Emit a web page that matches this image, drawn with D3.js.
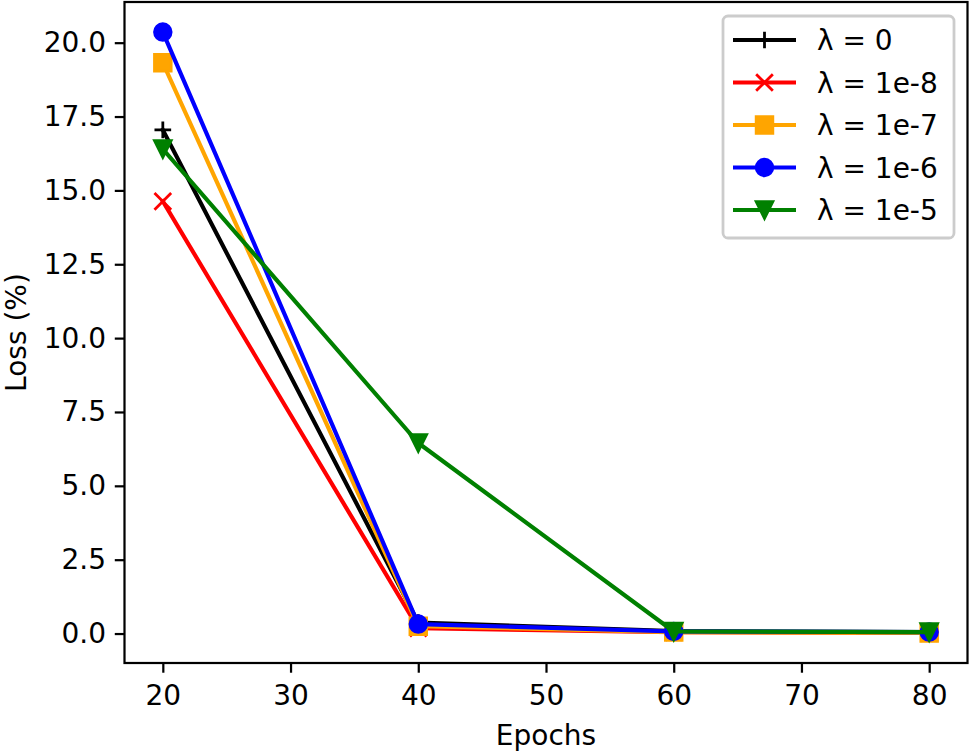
<!DOCTYPE html>
<html>
<head>
<meta charset="utf-8">
<script src="https://cdn.jsdelivr.net/npm/d3@7"></script>
<style>
  body { margin: 0; background: #fff; }
  svg { display: block; font-family: "DejaVu Sans", sans-serif; }
</style>
</head>
<body>
<svg id="chart" width="970" height="751"></svg>
<script>
// data
let epochs = [20, 40, 60, 80];
let labels = ["λ = 0", "λ = 1e-8", "λ = 1e-7", "λ = 1e-6", "λ = 1e-5"];
let lossLam0 = [17.05, 0.37, 0.08, 0.05];
let lossLam1e8 = [14.63, 0.18, 0.05, 0.02];
let lossLam1e7 = [19.32, 0.25, 0.05, 0.02];
let lossLam1e6 = [20.36, 0.32, 0.07, 0.05];
let lossLam1e5 = [16.4, 6.45, 0.07, 0.05];
let xTicks = [20, 30, 40, 50, 60, 70, 80];
let yTicks = [0, 2.5, 5, 7.5, 10, 12.5, 15, 17.5, 20];

let colors = ["#000000", "#ff0000", "#ffa500", "#0000ff", "#008000"];
let markers = ["plus", "x", "square", "circle", "tridown"];
let allLoss = [lossLam0, lossLam1e8, lossLam1e7, lossLam1e6, lossLam1e5];

let pt = 200 / 72; // px per point
let plotL = 124.5, plotR = 967.5, plotT = 2, plotB = 663;
let fontSize = 28;

let svg = d3.select("#chart");

// matplotlib-style 5% margins
let xMin = d3.min(epochs), xMax = d3.max(epochs);
let xPad = (xMax - xMin) * 0.05;
let flat = allLoss.flat();
let yMin = d3.min(flat), yMax = d3.max(flat);
let yPad = (yMax - yMin) * 0.05;

let x = d3.scaleLinear().domain([xMin - xPad, xMax + xPad]).range([plotL, plotR]);
let y = d3.scaleLinear().domain([yMin - yPad, yMax + yPad]).range([plotB, plotT]);

let ms = 6 * pt;      // marker size
let mew = 1 * pt;     // marker edge width
let lw = 1.5 * pt;    // line width

function markerPath(type, s) {
    let h = s / 2;
    if (type === "plus") return `M${-h},0L${h},0M0,${-h}L0,${h}`;
    if (type === "x") return `M${-h},${-h}L${h},${h}M${-h},${h}L${h},${-h}`;
    if (type === "square") return `M${-h},${-h}H${h}V${h}H${-h}Z`;
    if (type === "tridown") return `M0,${h}L${-h},${-h}L${h},${-h}Z`;
    // circle
    return d3.arc()({innerRadius: 0, outerRadius: h, startAngle: 0, endAngle: 2 * Math.PI});
}

function drawMarker(g, type, color) {
    let filled = !(type === "plus" || type === "x");
    g.append("path")
        .attr("d", markerPath(type, ms))
        .attr("fill", filled ? color : "none")
        .attr("stroke", color)
        .attr("stroke-width", mew)
        .attr("stroke-linejoin", "miter");
}

// series
let line = d3.line()
    .x(function (d, i) { return x(epochs[i]); })
    .y(function (d) { return y(d); });

allLoss.forEach(function (series, k) {
    let g = svg.append("g");
    g.append("path")
        .datum(series)
        .attr("d", line)
        .attr("fill", "none")
        .attr("stroke", colors[k])
        .attr("stroke-width", lw)
        .attr("stroke-linejoin", "round")
        .attr("stroke-linecap", "square");
    g.selectAll("g.m")
        .data(series)
        .enter()
        .append("g")
        .attr("class", "m")
        .attr("transform", function (d, i) { return `translate(${x(epochs[i])},${y(d)})`; })
        .each(function () { drawMarker(d3.select(this), markers[k], colors[k]); });
});

// axes
let tickLen = 3.5 * pt, tickPad = 3.5 * pt;
let xAxis = d3.axisBottom(x).tickValues(xTicks).tickFormat(d3.format("d"))
    .tickSizeInner(tickLen).tickSizeOuter(0).tickPadding(tickPad);
let yAxis = d3.axisLeft(y).tickValues(yTicks).tickFormat(d3.format(".1f"))
    .tickSizeInner(tickLen).tickSizeOuter(0).tickPadding(tickPad - 1);

let gx = svg.append("g").attr("transform", `translate(0,${plotB})`).call(xAxis);
let gy = svg.append("g").attr("transform", `translate(${plotL},0)`).call(yAxis);
[gx, gy].forEach(function (g) {
    g.select(".domain").remove();
    g.selectAll(".tick line").attr("stroke", "#000").attr("stroke-width", 0.8 * pt);
    g.selectAll(".tick text")
        .attr("fill", "#000")
        .style("font-family", "DejaVu Sans")
        .style("font-size", fontSize + "px");
});
gx.selectAll(".tick text").attr("dy", "0.8em");

// frame
svg.append("rect")
    .attr("x", plotL).attr("y", plotT)
    .attr("width", plotR - plotL).attr("height", plotB - plotT)
    .attr("fill", "none")
    .attr("stroke", "#000")
    .attr("stroke-width", 0.8 * pt);

// axis labels
svg.append("text")
    .attr("x", (plotL + plotR) / 2)
    .attr("y", 745)
    .attr("text-anchor", "middle")
    .style("font-size", fontSize + "px")
    .text("Epochs");

svg.append("text")
    .attr("transform", `translate(25.5,${(plotT + plotB) / 2}) rotate(-90)`)
    .attr("text-anchor", "middle")
    .style("font-size", fontSize + "px")
    .text("Loss (%)");

// legend
let legend = svg.append("g");
legend.append("rect")
    .attr("x", 723).attr("y", 16)
    .attr("width", 231).attr("height", 222)
    .attr("rx", 5)
    .attr("fill", "#fff")
    .attr("fill-opacity", 0.8)
    .attr("stroke", "#cccccc")
    .attr("stroke-width", 1 * pt);

labels.forEach(function (lab, k) {
    let cy = 40 + k * 42.5;
    let row = legend.append("g");
    row.append("line")
        .attr("x1", 733).attr("x2", 796)
        .attr("y1", cy).attr("y2", cy)
        .attr("stroke", colors[k])
        .attr("stroke-width", lw);
    let m = row.append("g").attr("transform", `translate(764.5,${cy})`);
    drawMarker(m, markers[k], colors[k]);
    row.append("text")
        .attr("x", 817)
        .attr("y", cy)
        .attr("dy", "0.36em")
        .style("font-size", fontSize + "px")
        .text(lab);
});
</script>
</body>
</html>
